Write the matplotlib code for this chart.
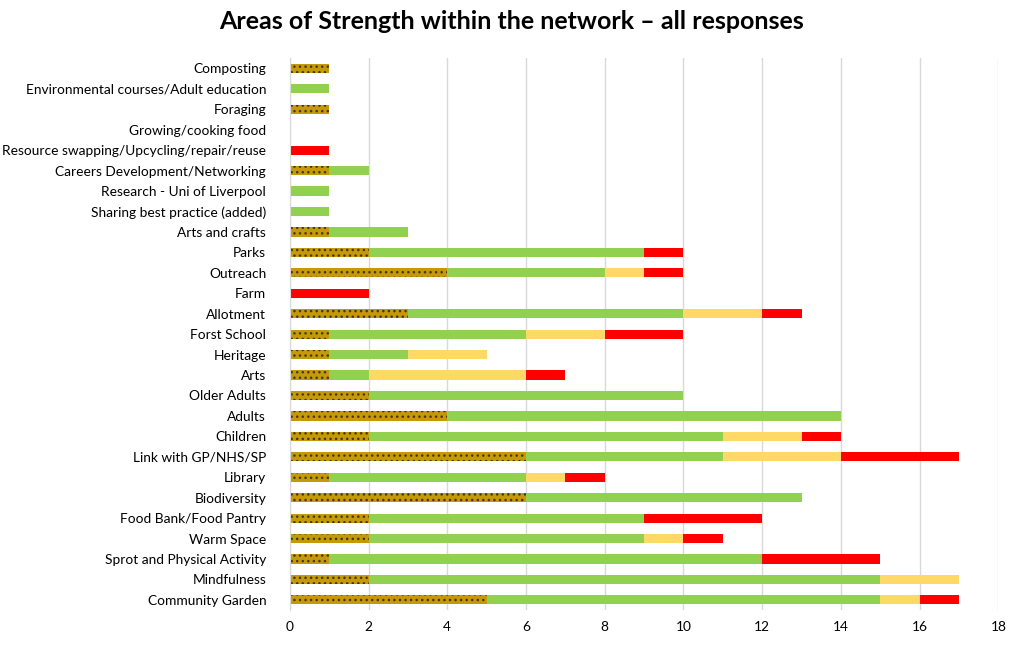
import numpy as np
import matplotlib
matplotlib.use("Agg")
import matplotlib.pyplot as plt

plt.rcParams['font.family'] = ['Lato', 'DejaVu Sans']
plt.rcParams['hatch.linewidth'] = 1.0

# categories listed bottom -> top
categories = [
    "Community Garden", "Mindfulness", "Sprot and Physical Activity", "Warm Space",
    "Food Bank/Food Pantry", "Biodiversity", "Library", "Link with GP/NHS/SP",
    "Children", "Adults", "Older Adults", "Arts", "Heritage", "Forst School",
    "Allotment", "Farm", "Outreach", "Parks", "Arts and crafts",
    "Sharing best practice (added)", "Research - Uni of Liverpool",
    "Careers Development/Networking", "Resource swapping/Upcycling/repair/reuse",
    "Growing/cooking food", "Foraging", "Environmental courses/Adult education",
    "Composting",
]
hatched = [5, 2, 1, 2, 2, 6, 1, 6, 2, 4, 2, 1, 1, 1, 3, 0, 4, 2, 1, 0, 0, 1, 0, 0, 1, 0, 1]
green   = [10, 13, 11, 7, 7, 7, 5, 5, 9, 10, 8, 1, 2, 5, 7, 0, 4, 7, 2, 1, 1, 1, 0, 0, 0, 1, 0]
yellow  = [1, 2, 0, 1, 0, 0, 1, 3, 2, 0, 0, 4, 2, 2, 2, 0, 1, 0, 0, 0, 0, 0, 0, 0, 0, 0, 0]
red     = [1, 0, 3, 1, 3, 0, 1, 3, 1, 0, 0, 1, 0, 2, 1, 2, 1, 1, 0, 0, 0, 0, 1, 0, 0, 0, 0]

y = np.arange(len(categories))
h = 0.45

fig = plt.figure(figsize=(10.24, 6.47), dpi=100)
ax = fig.add_axes([0.283, 0.057, 0.692, 0.853])

left = np.zeros(len(categories))
ax.barh(y, hatched, h, left=left, color="#C49A0A", edgecolor="#4a3500",
        hatch="...", linewidth=0)
left += hatched
ax.barh(y, green, h, left=left, color="#92D050", linewidth=0)
left += green
ax.barh(y, yellow, h, left=left, color="#FFD966", linewidth=0)
left += yellow
ax.barh(y, red, h, left=left, color="#FF0000", linewidth=0)

ax.set_xlim(0, 18)
ax.set_ylim(-0.5, len(categories) - 0.5)
ax.set_xticks(range(0, 19, 2))
ax.set_yticks(y)
ax.set_yticklabels(categories)
ax.tick_params(axis="both", length=0, labelsize=9.9, colors="#000000")
ax.tick_params(axis="y", pad=17)
ax.tick_params(axis="x", pad=8)
ax.xaxis.grid(True, color="#D9D9D9", linewidth=1)
ax.set_axisbelow(True)
for s in ["top", "right", "bottom"]:
    ax.spines[s].set_visible(False)
ax.spines["left"].set_color("#D9D9D9")

fig.suptitle("Areas of Strength within the network \u2013 all responses",
             x=0.5, y=0.985, fontsize=18, fontweight="bold")

fig.savefig("out.png", dpi=100)
